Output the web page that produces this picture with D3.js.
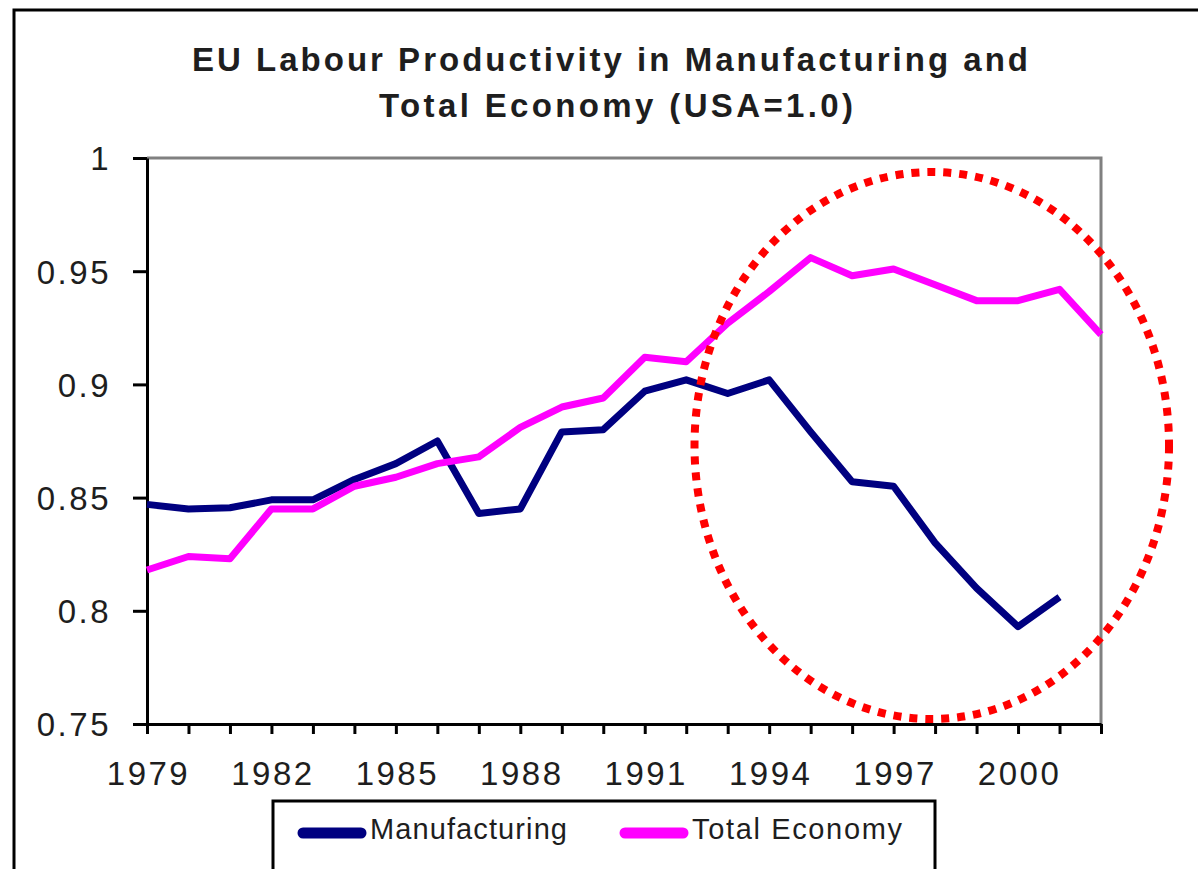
<!DOCTYPE html>
<html>
<head>
<meta charset="utf-8">
<script src="https://cdn.jsdelivr.net/npm/d3@7"></script>
<style>
  body { margin: 0; background: #fff; }
  svg text { font-family: "Liberation Sans", Arial, sans-serif; fill: #1e1e1e; }
</style>
</head>
<body>
<svg id="chart" width="1198" height="869"></svg>
<script>

var years = [1979, 1980, 1981, 1982, 1983, 1984, 1985, 1986, 1987, 1988, 1989, 1990,
             1991, 1992, 1993, 1994, 1995, 1996, 1997, 1998, 1999, 2000, 2001, 2002];

var manufacturing = [0.847, 0.845, 0.8455, 0.849, 0.849, 0.858, 0.865, 0.875, 0.843, 0.845, 0.879, 0.880,
                     0.897, 0.902, 0.896, 0.902, 0.879, 0.857, 0.855, 0.830, 0.810, 0.793, 0.806, null];

var total_economy = [0.818, 0.824, 0.823, 0.845, 0.845, 0.855, 0.859, 0.865, 0.868, 0.881, 0.890, 0.894,
                     0.912, 0.910, 0.927, 0.941, 0.956, 0.948, 0.951, 0.944, 0.937, 0.937, 0.942, 0.922];

var y_ticks = [0.75, 0.8, 0.85, 0.9, 0.95, 1];
var title_lines = ['EU Labour Productivity in Manufacturing and', 'Total Economy (USA=1.0)'];
var series_names = ['Manufacturing', 'Total Economy'];
var series_colors = ['#000080', '#ff00ff'];

// highlighted region (in data units): centre year/value and half extents
var ring = {year: 1997.92, value: 0.873, half_years: 5.72, half_value: 0.1208};

var svg = d3.select('#chart');

var margin = {left: 147, right: 97, top: 158, bottom: 146};
var width = 1198 - margin.left - margin.right;
var height = 869 - margin.top - margin.bottom + 1;

var x = d3.scaleLinear().domain([years[0], years[years.length - 1]]).range([margin.left, margin.left + width]);
var y = d3.scaleLinear().domain([0.75, 1]).range([margin.top + height, margin.top]);

// outer frame (runs off the right and bottom of the picture)
svg.append('rect')
   .attr('x', 14).attr('y', 10)
   .attr('width', 1400).attr('height', 1000)
   .attr('fill', 'none').attr('stroke', '#000').attr('stroke-width', 3);

// title
svg.selectAll('.title')
   .data(title_lines)
   .enter()
   .append('text')
   .attr('class', 'title')
   .attr('x', (d, i) => i == 0 ? 610 : 616)
   .attr('y', (d, i) => i == 0 ? 71 : 117)
   .attr('text-anchor', 'middle')
   .attr('font-size', 33)
   .attr('font-weight', 'bold')
   .attr('textLength', (d, i) => i == 0 ? 836 : 474)
   .attr('lengthAdjust', 'spacing')
   .text(d => d);

// plot border: grey top and right
svg.append('path')
   .attr('d', 'M' + x.range()[0] + ',' + y(1) + 'H' + x.range()[1] + 'V' + y(0.75))
   .attr('fill', 'none').attr('stroke', '#808080').attr('stroke-width', 3);

// y axis
var y_axis = svg.append('g')
   .attr('transform', 'translate(' + margin.left + ',0)')
   .call(d3.axisLeft(y).tickValues(y_ticks).tickSize(14).tickSizeOuter(0).tickPadding(22)
           .tickFormat(d3.format('')));

// x axis
var x_axis = svg.append('g')
   .attr('transform', 'translate(0,' + y(0.75) + ')')
   .call(d3.axisBottom(x).tickValues(years).tickSize(10).tickSizeOuter(0).tickPadding(28)
           .tickFormat(d => (d - 1979) % 3 == 0 ? d : ''));

[y_axis, x_axis].forEach(g => {
  g.select('.domain').attr('stroke', '#000').attr('stroke-width', 3);
  g.selectAll('.tick line').attr('stroke', '#000').attr('stroke-width', 3);
  g.selectAll('.tick text')
   .attr('font-family', '"Liberation Sans", Arial, sans-serif')
   .attr('font-size', 33)
   .attr('letter-spacing', '2.5px')
   .attr('fill', '#1e1e1e');
});
y_axis.selectAll('.tick text').attr('dy', '0.36em');
x_axis.selectAll('.tick text').attr('dy', '0.71em').attr('dx', '1px');

// lines
var line = d3.line()
             .defined(d => d.v != null)
             .x(d => x(d.year))
             .y(d => y(d.v));

[manufacturing, total_economy].forEach((values, i) => {
  svg.append('path')
     .datum(years.map((yr, j) => ({year: yr, v: values[j]})))
     .attr('fill', 'none')
     .attr('stroke', series_colors[i])
     .attr('stroke-width', 7)
     .attr('stroke-linejoin', 'round')
     .attr('d', line);
});

// legend
svg.append('rect')
   .attr('x', 273).attr('y', 801)
   .attr('width', 662).attr('height', 120)
   .attr('fill', 'none').attr('stroke', '#000').attr('stroke-width', 3);

var legend_x = [303, 625];
var legend_len = [197, 210];
series_names.forEach((name, i) => {
  svg.append('line')
     .attr('x1', legend_x[i]).attr('x2', legend_x[i] + 58)
     .attr('y1', 833).attr('y2', 833)
     .attr('stroke', series_colors[i])
     .attr('stroke-width', 11)
     .attr('stroke-linecap', 'round');
  svg.append('text')
     .attr('x', legend_x[i] + 67)
     .attr('y', 839)
     .attr('font-size', 29)
     .attr('textLength', legend_len[i])
     .attr('lengthAdjust', 'spacing')
     .text(name);
});

// red dotted ring
svg.append('ellipse')
   .attr('cx', x(ring.year))
   .attr('cy', y(ring.value))
   .attr('rx', x(ring.year + ring.half_years) - x(ring.year))
   .attr('ry', y(ring.value - ring.half_value) - y(ring.value))
   .attr('fill', 'none')
   .attr('stroke', '#ff0000')
   .attr('stroke-width', 8)
   .attr('stroke-dasharray', '8 8');

</script>
</body>
</html>
